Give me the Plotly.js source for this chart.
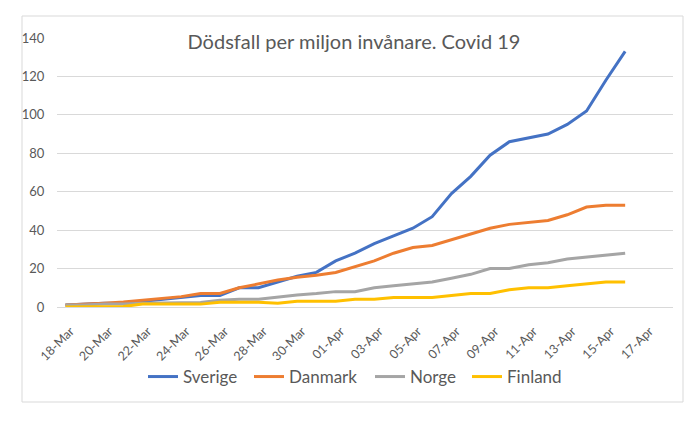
<!DOCTYPE html>
<html>
<head>
<meta charset="utf-8">
<script src="https://cdn.plot.ly/plotly-3.0.1.min.js"></script>
<style>html,body{margin:0;padding:0;background:#fff;}#chart{width:700px;height:429px;}</style>
</head>
<body>
<div id="chart"></div>
<script>
// Dates: 18-Mar-2020 .. 16-Apr-2020 (daily)
const dates = ["2020-03-18","2020-03-19","2020-03-20","2020-03-21","2020-03-22","2020-03-23","2020-03-24","2020-03-25","2020-03-26","2020-03-27","2020-03-28","2020-03-29","2020-03-30","2020-03-31","2020-04-01","2020-04-02","2020-04-03","2020-04-04","2020-04-05","2020-04-06","2020-04-07","2020-04-08","2020-04-09","2020-04-10","2020-04-11","2020-04-12","2020-04-13","2020-04-14","2020-04-15","2020-04-16"];
const sverige = [1, 1.5, 2, 2, 3, 4, 5, 6, 6, 10, 10, 13, 16, 18, 24, 28, 33, 37, 41, 47, 59, 68, 79, 86, 88, 90, 95, 102, 118, 133];
const danmark = [1, 1.4, 2, 2.6, 3.5, 4.5, 5.4, 7, 7, 10, 12, 14, 15.5, 16.5, 18, 21, 24, 28, 31, 32, 35, 38, 41, 43, 44, 45, 48, 52, 53, 53];
const norge = [1, 1, 1.5, 1.5, 2, 2, 2, 2.3, 3.5, 4, 4, 5.3, 6.3, 7, 8, 8, 10, 11, 12, 13, 15, 17, 20, 20, 22, 23, 25, 26, 27, 28];
const finland = [0, 0, 0, 0.3, 1.5, 1.5, 1.5, 1.5, 2.5, 2.5, 2.5, 2, 3, 3, 3, 4, 4, 5, 5, 5, 6, 7, 7, 9, 10, 10, 11, 12, 13, 13];
const seriesNames = ["Sverige", "Danmark", "Norge", "Finland"];
const seriesColors = ["#4472C4", "#ED7D31", "#A5A5A5", "#FFC000"];
const yTicks = [0, 20, 40, 60, 80, 100, 120, 140];
const titleText = "Dödsfall per miljon invånare. Covid 19";

const FONT = "Lato, 'Liberation Sans', Arial, sans-serif";
const legendIds = ["legend", "legend2", "legend3", "legend4"];
const legendLeft = [143, 249, 370, 467]; // px, left edge of each legend entry

const seriesValues = [sverige, danmark, norge, finland];
const traces = seriesValues.map((vals, i) => ({
  type: "scatter",
  mode: "lines",
  x: dates,
  y: vals,
  name: seriesNames[i],
  legend: legendIds[i],
  line: {color: seriesColors[i], width: 3},
  hoverinfo: "skip"
}));

const layout = {
  width: 700,
  height: 429,
  paper_bgcolor: "#ffffff",
  plot_bgcolor: "#ffffff",
  margin: {l: 57, r: 27, t: 38, b: 122, pad: 0},
  font: {family: FONT, color: "#595959"},
  title: {
    text: titleText,
    font: {family: FONT, size: 20, color: "#595959"},
    x: 354/700, xanchor: "center", xref: "container",
    y: 1 - 42/429, yanchor: "middle", yref: "container"
  },
  xaxis: {
    type: "date",
    range: ["2020-03-17 13:26", "2020-04-18 11:30"],
    tick0: "2020-03-18",
    dtick: 172800000,
    tickformat: "%d-%b",
    tickangle: -45,
    showgrid: false,
    zeroline: false,
    showline: false,
    ticks: "outside",
    ticklen: 11,
    tickcolor: "rgba(0,0,0,0)",
    ticklabelshift: 5,
    tickfont: {family: FONT, size: 12.5, color: "#595959"}
  },
  yaxis: {
    range: [0, 140],
    tickvals: yTicks,
    showgrid: true,
    gridcolor: "#D9D9D9",
    gridwidth: 1,
    zeroline: true,
    zerolinecolor: "#D9D9D9",
    zerolinewidth: 1,
    showline: false,
    ticks: "outside",
    ticklen: 9,
    tickcolor: "rgba(0,0,0,0)",
    tickfont: {family: FONT, size: 13, color: "#595959"}
  },
  showlegend: true,
  shapes: [
    {type: "rect", xref: "paper", yref: "paper",
     x0: (22-57)/616, x1: (683-57)/616, y0: (307-402)/269, y1: (307-16)/269,
     line: {color: "#D9D9D9", width: 1}, fillcolor: "rgba(0,0,0,0)", layer: "below"},
    {type: "rect", xref: "paper", yref: "paper",
     x0: (186-57)/616, x1: (523-57)/616, y0: (307-46)/269, y1: (307-32)/269,
     line: {width: 0}, fillcolor: "#ffffff", layer: "above"}
  ]
};

legendIds.forEach((id, i) => {
  layout[id] = {
    orientation: "h",
    xref: "container", yref: "container",
    x: legendLeft[i] / 700, xanchor: "left",
    y: 1 - 377/429, yanchor: "middle",
    font: {family: FONT, size: 17, color: "#595959"},
    bgcolor: "rgba(0,0,0,0)",
    borderwidth: 0
  };
});

Plotly.newPlot("chart", traces, layout, {displayModeBar: false, staticPlot: true});
</script>
</body>
</html>
